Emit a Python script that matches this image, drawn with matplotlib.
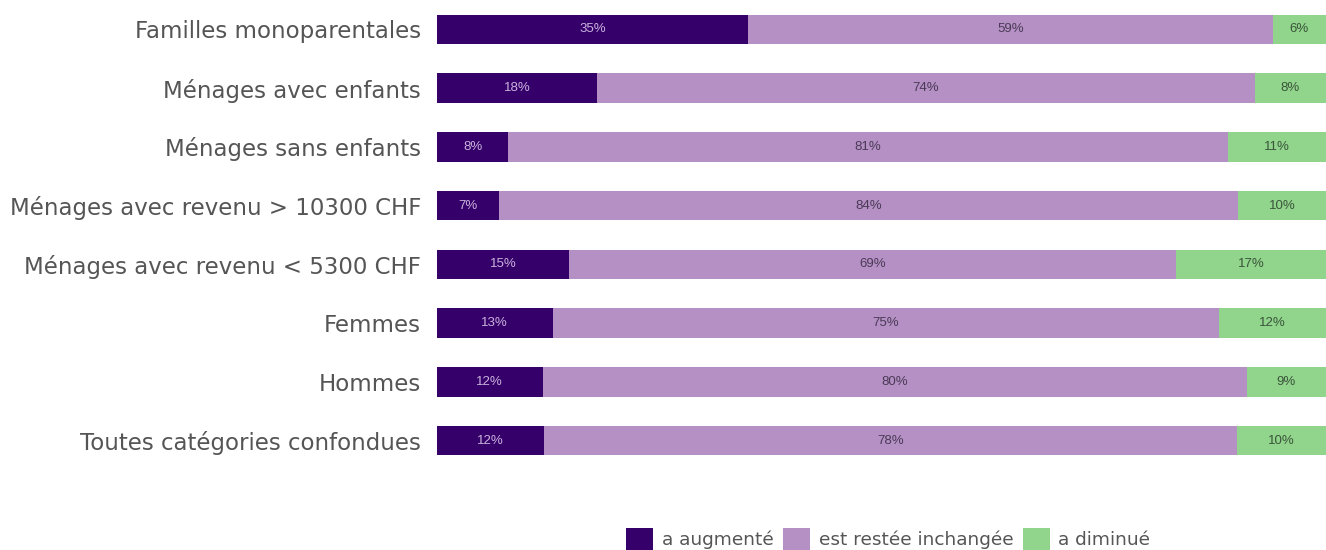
import matplotlib
matplotlib.use("Agg")
import matplotlib.pyplot as plt
import numpy as np

categories = ["Familles monoparentales", "Ménages avec enfants", "Ménages sans enfants",
              "Ménages avec revenu > 10300 CHF", "Ménages avec revenu < 5300 CHF",
              "Femmes", "Hommes", "Toutes catégories confondues"]
augmente = [35, 18, 8, 7, 15, 13, 12, 12]
inchangee = [59, 74, 81, 84, 69, 75, 80, 78]
diminue = [6, 8, 11, 10, 17, 12, 9, 10]
series_names = ["a augmenté", "est restée inchangée", "a diminué"]
colors = ["#36006b", "#b590c4", "#91d48c"]
text_colors = ["#c9b3dd", "#4a3a56", "#3a553a"]

fig = plt.figure(figsize=(13.26, 5.5), dpi=100)
ax = fig.add_axes([437/1326, (550-470)/550, 1 - 437/1326, 470/550])

data = np.array([augmente, inchangee, diminue], dtype=float)
totals = data.sum(axis=0)
norm = data / totals * 100
y = np.arange(len(categories))
left = np.zeros(len(categories))
handles = []
for i in range(3):
    b = ax.barh(y, norm[i], left=left, height=0.5, color=colors[i], label=series_names[i])
    handles.append(b)
    for j in range(len(categories)):
        ax.text(left[j] + norm[i][j] / 2, y[j], f"{int(data[i][j])}%", ha="center", va="center",
                fontsize=9.5, color=text_colors[i], family="Liberation Sans")
    left += norm[i]

ax.set_xlim(0, 100)
ax.set_ylim(len(categories) - 0.5, -0.5)
ax.set_yticks(y)
ax.set_yticklabels(categories, fontsize=16.5, color="#555555", family="DejaVu Sans")
ax.tick_params(axis="y", length=0, pad=11.5)
ax.set_xticks([])
for s in ax.spines.values():
    s.set_visible(False)

fig.legend(handles, series_names, loc="center", bbox_to_anchor=(0.670, 1 - 539/550), ncol=3,
           frameon=False, handlelength=1.45, handleheight=1.45, handletextpad=0.45,
           columnspacing=0.55, borderpad=0, prop={"family": "DejaVu Sans", "size": 13.3},
           labelcolor="#555555")

fig.savefig("out.png", dpi=100)
